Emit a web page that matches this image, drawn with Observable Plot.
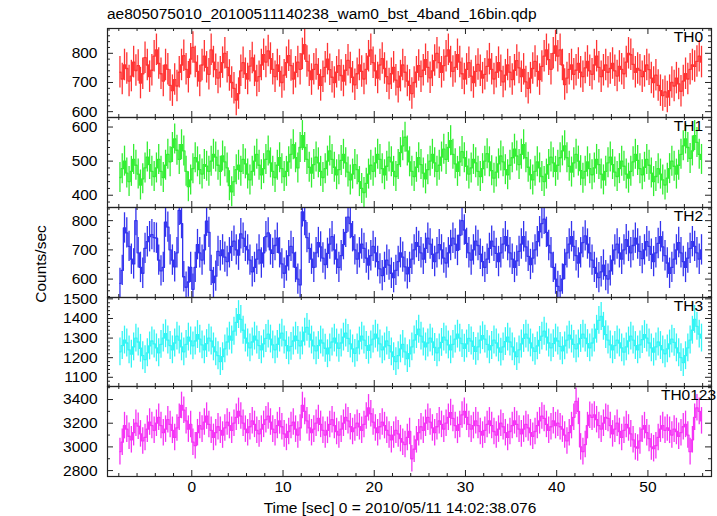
<!DOCTYPE html>
<html>
<head>
<meta charset="utf-8">
<script src="https://cdn.jsdelivr.net/npm/d3@7"></script>
<script src="https://cdn.jsdelivr.net/npm/@observablehq/plot@0.6"></script>
<style>
  body { margin: 0; background: #fff; }
  #chart { position: relative; width: 717px; height: 516px; overflow: hidden; background: #fff;
           font-family: "Liberation Sans", Arial, Helvetica, sans-serif; color: #000; }
  .title { position: absolute; left: 107px; top: 6px; font-size: 15.5px; line-height: 15px; white-space: nowrap; }
  .xlabel { position: absolute; left: 0; width: 800px; top: 500px; font-size: 15.5px; line-height: 15px; text-align: center; white-space: nowrap; }
  .ylabel { position: absolute; left: 40px; top: 264px; font-size: 15.5px; line-height: 15px; white-space: nowrap;
            transform: translate(-50%, -50%) rotate(-90deg); }
</style>
</head>
<body>
<div id="chart">
  <div class="title">ae805075010_20100511140238_wam0_bst_4band_16bin.qdp</div>
  <div class="ylabel">Counts/sec</div>
  <div class="xlabel">Time [sec] 0 = 2010/05/11 14:02:38.076</div>
</div>
<script>
// ---- data ----
const binStart = -8;      // s, start of the first bin
const binWidth = 0.25;    // s
const labels = ["TH0", "TH1", "TH2", "TH3", "TH0123"];
const colors = ["#ff3333", "#33ee33", "#3333ee", "#33f5f5", "#f533f5"];
const errors = [54, 44, 52, 71, 112];

const th0 = [
  735, 712, 760, 748, 705, 722, 770, 741, 758, 698, 730, 785, 760, 720, 742, 790,
  812, 765, 730, 705, 760, 745, 690, 672, 710, 688, 735, 760, 792, 745, 718, 780,
  820, 770, 738, 705, 760, 790, 752, 728, 812, 770, 744, 715, 735, 768, 800, 752,
  724, 700, 680, 640, 662, 740, 768, 730, 712, 756, 784, 740, 705, 720, 760, 795,
  770, 808, 782, 745, 720, 760, 738, 700, 725, 768, 792, 758, 712, 735, 770, 745,
  798, 830, 772, 740, 710, 745, 762, 728, 690, 720, 752, 780, 744, 718, 700, 735,
  758, 724, 705, 742, 776, 750, 718, 692, 730, 760, 738, 712, 745, 790, 812, 768,
  740, 715, 760, 782, 748, 720, 695, 730, 752, 708, 684, 722, 760, 735, 705, 690,
  662, 700, 735, 758, 720, 742, 778, 752, 716, 740, 775, 800, 768, 735, 758, 790,
  812, 770, 738, 752, 795, 770, 730, 712, 745, 768, 722, 700, 738, 762, 740, 715,
  728, 755, 780, 745, 712, 735, 768, 740, 702, 725, 760, 735, 710, 742, 775, 750,
  720, 745, 702, 680, 715, 748, 772, 738, 710, 755, 790, 812, 778, 745, 800, 825,
  790, 812, 760, 693, 715, 745, 760, 728, 742, 765, 735, 720, 750, 772, 740, 728,
  760, 790, 752, 720, 742, 760, 735, 748, 765, 740, 722, 755, 745, 730, 770, 800,
  795, 762, 735, 748, 742, 720, 738, 760, 744, 715, 700, 725, 690, 672, 655, 668,
  650, 672, 700, 688, 715, 695, 670, 705, 730, 712, 745, 760, 755, 772, 790, 770
];
const th1 = [
  452, 478, 500, 465, 440, 470, 505, 488, 462, 430, 448, 480, 512, 490, 470, 455,
  480, 505, 470, 452, 488, 520, 498, 540, 565, 532, 505, 548, 530, 470, 425, 445,
  478, 510, 498, 475, 462, 490, 485, 470, 500, 520, 512, 488, 470, 515, 498, 480,
  428, 410, 440, 475, 488, 470, 505, 492, 462, 445, 470, 500, 520, 488, 460, 478,
  505, 530, 495, 470, 452, 488, 510, 478, 455, 470, 498, 520, 548, 510, 480, 540,
  575, 540, 505, 482, 465, 490, 512, 495, 470, 452, 478, 500, 530, 505, 482, 460,
  475, 502, 520, 495, 468, 445, 462, 490, 475, 440, 420, 408, 435, 462, 488, 470,
  495, 520, 505, 478, 460, 485, 512, 498, 470, 455, 490, 525, 545, 570, 530, 498,
  470, 455, 482, 510, 490, 465, 448, 475, 500, 520, 495, 470, 488, 512, 535, 505,
  540, 560, 520, 492, 470, 498, 528, 510, 485, 462, 480, 505, 495, 470, 455, 478,
  500, 522, 498, 472, 450, 468, 492, 515, 498, 475, 460, 488, 510, 535, 515, 490,
  520, 548, 510, 482, 460, 445, 470, 498, 480, 455, 440, 462, 490, 512, 495, 470,
  488, 510, 530, 545, 510, 485, 468, 495, 520, 500, 472, 450, 470, 498, 478, 460,
  480, 505, 490, 462, 445, 470, 495, 512, 490, 468, 455, 478, 500, 485, 462, 450,
  470, 498, 520, 502, 478, 460, 482, 505, 488, 465, 440, 455, 478, 462, 445, 430,
  450, 478, 500, 485, 462, 488, 520, 545, 565, 540, 508, 530, 575, 555, 520, 505
];
const th2 = [
  585, 630, 775, 758, 712, 668, 652, 800, 690, 640, 620, 705, 728, 745, 752, 742,
  740, 665, 628, 640, 795, 778, 700, 665, 642, 690, 835, 790, 608, 572, 590, 640,
  565, 640, 718, 690, 665, 700, 798, 760, 630, 588, 610, 695, 680, 700, 675, 660,
  690, 712, 730, 700, 682, 755, 740, 712, 700, 665, 625, 640, 668, 700, 655, 690,
  745, 758, 700, 688, 715, 740, 690, 652, 620, 645, 680, 712, 690, 640, 600, 580,
  830, 800, 742, 705, 668, 640, 690, 725, 710, 672, 650, 688, 720, 745, 700, 668,
  640, 680, 718, 760, 812, 790, 745, 700, 668, 690, 720, 705, 672, 648, 680, 712,
  690, 660, 635, 612, 640, 665, 648, 620, 605, 630, 660, 690, 675, 642, 618, 640,
  668, 700, 725, 712, 690, 668, 705, 740, 720, 685, 660, 690, 718, 700, 672, 655,
  690, 715, 740, 720, 698, 750, 800, 768, 722, 690, 665, 700, 730, 715, 685, 660,
  640, 668, 705, 730, 712, 688, 660, 690, 720, 745, 715, 690, 668, 640, 662, 695,
  720, 745, 710, 678, 650, 672, 700, 728, 762, 790, 805, 760, 715, 690, 640, 600,
  575, 560, 600, 650, 690, 720, 745, 712, 680, 655, 690, 725, 748, 720, 690, 665,
  640, 620, 605, 625, 648, 612, 600, 628, 665, 700, 720, 690, 668, 700, 735, 712,
  690, 715, 740, 720, 695, 670, 700, 728, 712, 685, 660, 690, 722, 745, 710, 680,
  655, 620, 640, 668, 700, 725, 690, 660, 640, 672, 705, 728, 712, 690, 668, 700
];
const th3 = [
  1230, 1262, 1290, 1275, 1240, 1218, 1255, 1300, 1280, 1248, 1210, 1190, 1225, 1260, 1285, 1270,
  1250, 1225, 1268, 1300, 1322, 1290, 1262, 1240, 1275, 1310, 1290, 1255, 1230, 1268, 1305, 1285,
  1260, 1285, 1318, 1295, 1265, 1240, 1272, 1300, 1285, 1255, 1230, 1210, 1180, 1205, 1245, 1280,
  1310, 1290, 1335, 1380, 1420, 1395, 1340, 1300, 1275, 1250, 1280, 1310, 1290, 1262, 1240, 1270,
  1298, 1320, 1295, 1265, 1240, 1268, 1300, 1325, 1290, 1262, 1235, 1258, 1285, 1310, 1288, 1260,
  1285, 1330, 1355, 1320, 1290, 1260, 1235, 1262, 1290, 1275, 1248, 1220, 1250, 1280, 1300, 1275,
  1248, 1275, 1305, 1325, 1298, 1270, 1245, 1222, 1250, 1285, 1310, 1290, 1262, 1238, 1265, 1295,
  1320, 1300, 1270, 1240, 1255, 1285, 1262, 1230, 1205, 1180, 1210, 1245, 1268, 1230, 1195, 1220,
  1255, 1290, 1318, 1345, 1310, 1280, 1255, 1275, 1300, 1280, 1252, 1225, 1250, 1278, 1305, 1290,
  1265, 1240, 1268, 1295, 1320, 1300, 1272, 1248, 1270, 1298, 1285, 1258, 1232, 1255, 1290, 1312,
  1295, 1268, 1240, 1262, 1290, 1275, 1250, 1228, 1255, 1282, 1305, 1280, 1255, 1230, 1205, 1240,
  1270, 1298, 1320, 1300, 1275, 1250, 1232, 1260, 1288, 1310, 1335, 1305, 1275, 1250, 1272, 1300,
  1285, 1258, 1235, 1260, 1290, 1315, 1295, 1268, 1245, 1270, 1298, 1320, 1300, 1272, 1250, 1275,
  1300, 1345, 1390, 1410, 1360, 1318, 1290, 1265, 1240, 1262, 1290, 1275, 1250, 1228, 1255, 1285,
  1310, 1290, 1262, 1240, 1265, 1292, 1318, 1300, 1275, 1250, 1228, 1255, 1280, 1262, 1240, 1220,
  1245, 1270, 1295, 1278, 1250, 1225, 1200, 1175, 1210, 1250, 1290, 1340, 1395, 1360, 1320, 1300
];
const th0123 = [
  2960, 3040, 3180, 3150, 3090, 3060, 3120, 3200, 3175, 3110, 3050, 3080, 3150, 3210, 3180, 3140,
  3200, 3250, 3180, 3120, 3150, 3230, 3190, 3140, 3080, 3160, 3250, 3350, 3310, 3220, 3150, 3190,
  3040, 3010, 3120, 3180, 3150, 3210, 3260, 3190, 3140, 3080, 3120, 3170, 3140, 3100, 3160, 3210,
  3180, 3140, 3200, 3250, 3300, 3260, 3200, 3150, 3120, 3170, 3220, 3190, 3140, 3110, 3150, 3190,
  3230, 3260, 3210, 3150, 3120, 3180, 3220, 3170, 3110, 3080, 3130, 3180, 3210, 3150, 3100, 3160,
  3350, 3300, 3220, 3160, 3120, 3150, 3200, 3240, 3190, 3140, 3100, 3140, 3190, 3230, 3180, 3130,
  3100, 3150, 3200, 3250, 3220, 3170, 3130, 3160, 3200, 3170, 3140, 3190, 3260, 3330, 3280, 3210,
  3160, 3120, 3170, 3210, 3180, 3140, 3100, 3060, 3100, 3140, 3110, 3070, 3040, 3020, 3080, 3130,
  2900, 2980, 3060, 3120, 3170, 3140, 3200, 3250, 3210, 3160, 3120, 3170, 3220, 3190, 3150, 3200,
  3250, 3290, 3240, 3180, 3140, 3190, 3270, 3300, 3250, 3190, 3150, 3180, 3220, 3180, 3130, 3100,
  3140, 3190, 3220, 3180, 3130, 3100, 3150, 3200, 3170, 3120, 3080, 3130, 3180, 3220, 3190, 3150,
  3110, 3150, 3190, 3160, 3120, 3090, 3130, 3180, 3220, 3260, 3240, 3190, 3140, 3170, 3220, 3180,
  3200, 3170, 3150, 3100, 3050, 3120, 3180, 3250, 3385, 3300, 3000, 2960, 3020, 3180, 3268, 3250,
  3270, 3230, 3180, 3150, 3200, 3250, 3240, 3180, 3110, 3150, 3200, 3130, 3080, 3140, 3190, 3160,
  3110, 3060, 3000, 2990, 3050, 3150, 3180, 3120, 3070, 3000, 2985, 3010, 3080, 3150, 3180, 3140,
  3160, 3140, 3100, 3150, 3130, 3090, 3120, 3170, 3190, 3100, 2960, 3060, 3250, 3330, 3300, 3220
];
const series = [th0, th1, th2, th3, th0123];

// axis ticks
const xDomain = [-9.24, 56.97];
const xMajor = [0, 10, 20, 30, 40, 50];
const xMinorStep = 2;
const yDomains = [[580, 885], [364, 628], [537, 845], [1053, 1507], [2750, 3510]];
const yMajor = [
  [600, 700, 800],
  [400, 500, 600],
  [600, 700, 800],
  [1100, 1200, 1300, 1400, 1500],
  [2800, 3000, 3200, 3400]
];
const yMinorStep = [20, 20, 20, 20, 100];

// ---- layout ----
const W = 717, mL = 107, mR = 6;
const innerW = W - mL - mR;
const tops = [28, 117, 207, 297, 386];
const heights = [89, 90, 90, 89, 90];
const frameColor = "#222";
const font = '"Liberation Sans", Arial, Helvetica, sans-serif';

const xMinor = d3.range(-8, 57, xMinorStep).filter(d => d % 10 !== 0 && d > xDomain[0] && d < xDomain[1]);

const chart = document.getElementById("chart");

series.forEach((vals, i) => {
  const err = errors[i];
  const data = vals.map((v, j) => ({t: binStart + binWidth * (j + 0.5), v, lo: v - err, hi: v + err}));
  const h = heights[i];
  const [y0, y1] = yDomains[i];
  const minor = d3.range(Math.ceil(y0 / yMinorStep[i]) * yMinorStep[i], y1, yMinorStep[i])
    .filter(d => !yMajor[i].includes(d) && d > y0 && d < y1);
  const marks = [
    Plot.ruleX(data, {x: "t", y1: "lo", y2: "hi", stroke: colors[i], strokeWidth: 1.3}),
    Plot.lineY(data, {x: "t", y: "v", curve: "step", stroke: colors[i], strokeWidth: 1.3}),
    Plot.tickY(yMajor[i], {y: d => d, insetRight: innerW - 6, stroke: frameColor}),
    Plot.tickY(yMajor[i], {y: d => d, insetLeft: innerW - 6, stroke: frameColor}),
    Plot.tickY(minor, {y: d => d, insetRight: innerW - 3, stroke: frameColor}),
    Plot.tickY(minor, {y: d => d, insetLeft: innerW - 3, stroke: frameColor}),
    Plot.tickX(xMajor, {x: d => d, insetBottom: h - 6, stroke: frameColor}),
    Plot.tickX(xMajor, {x: d => d, insetTop: h - 6, stroke: frameColor}),
    Plot.tickX(xMinor, {x: d => d, insetBottom: h - 3, stroke: frameColor}),
    Plot.tickX(xMinor, {x: d => d, insetTop: h - 3, stroke: frameColor}),
    Plot.frame({stroke: frameColor, strokeWidth: 1.2}),
    Plot.axisY(yMajor[i], {anchor: "left", tickSize: 0, tickPadding: 10, label: null, fontSize: 15.5, fill: "#000",
                           tickFormat: d => String(d)}),
    Plot.text([labels[i]], {frameAnchor: "top-right", text: d => d, textAnchor: "middle", lineAnchor: "top",
                            dx: -23, dy: 2, fontSize: 15.5, fill: "#000"})
  ];
  if (i === series.length - 1) {
    marks.push(Plot.axisX(xMajor, {anchor: "bottom", tickSize: 0, tickPadding: 4, label: null, fontSize: 15.5, fill: "#000",
                                   tickFormat: d => String(d)}));
  }
  const svg = Plot.plot({
    width: W, height: h,
    marginLeft: mL, marginRight: mR, marginTop: 0, marginBottom: 0,
    x: {domain: xDomain, axis: i === series.length - 1 ? undefined : null},
    y: {domain: yDomains[i], clamp: true, label: null},
    style: {background: "transparent", overflow: "visible", fontFamily: font, fontSize: "15.5px", color: "#000"},
    marks
  });
  svg.style.position = "absolute";
  svg.style.top = tops[i] + "px";
  svg.style.left = "0px";
  chart.appendChild(svg);
});
</script>
</body>
</html>
